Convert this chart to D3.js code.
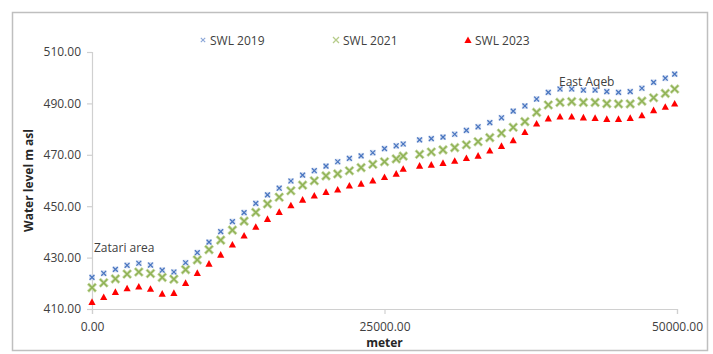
<!DOCTYPE html>
<html>
<head>
<meta charset="utf-8">
<script src="https://cdn.jsdelivr.net/npm/d3@7"></script>
<style>
  html, body { margin: 0; padding: 0; background: #fff; }
  svg { display: block; font-family: "Open Sans", "Liberation Sans", sans-serif; }
</style>
</head>
<body>
<svg id="chart" width="713" height="354"></svg>
<script>
// Distance along the profile (m)
const meters = [0, 1000, 2000, 3000, 4000, 5000, 6000, 7000, 8000, 9000,
  10000, 11000, 12000, 13000, 14000, 15000, 16000, 17000, 18000, 19000,
  20000, 21000, 22000, 23000, 24000, 25000, 26000, 26600, 28000, 29000,
  30000, 31000, 32000, 33000, 34000, 35000, 36000, 37000, 38000, 39000,
  40000, 41000, 42000, 43000, 44000, 45000, 46000, 47000, 48000, 49000, 49800];

// Static water level (m asl) per survey year
const swl2019 = [422.3, 423.9, 425.4, 427.0, 427.8, 427.1, 425.1, 424.4, 428.0, 431.9,
  436.0, 440.1, 444.0, 447.5, 451.1, 454.4, 457.0, 459.8, 462.1, 463.8,
  465.6, 467.3, 468.6, 469.6, 470.8, 472.4, 473.5, 474.2, 475.8, 476.3,
  476.9, 478.0, 479.5, 480.9, 482.5, 484.4, 487.0, 489.0, 491.7, 494.3,
  495.6, 495.6, 495.2, 495.2, 494.6, 494.3, 494.6, 495.9, 498.2, 499.8, 501.4];

const swl2021 = [418.3, 420.2, 421.7, 423.6, 424.4, 423.8, 422.3, 421.6, 425.3, 429.1,
  433.1, 436.8, 440.7, 444.2, 447.6, 450.9, 453.5, 456.0, 458.2, 459.9,
  461.8, 462.6, 463.8, 465.0, 466.3, 467.3, 468.4, 469.5, 470.2, 471.1,
  471.9, 472.8, 473.9, 475.1, 476.7, 478.4, 480.7, 482.9, 486.5, 489.4,
  490.4, 490.7, 490.4, 490.4, 489.9, 489.8, 489.8, 490.9, 492.2, 493.9, 495.6];

const swl2023 = [412.6, 414.5, 416.5, 417.9, 418.6, 417.7, 415.8, 416.1, 420.0, 423.9,
  427.5, 431.0, 434.9, 438.4, 441.8, 444.9, 447.6, 450.2, 452.4, 454.0,
  455.4, 456.3, 457.9, 458.6, 459.8, 461.2, 462.5, 464.4, 465.6, 466.0,
  466.7, 467.5, 468.6, 469.5, 471.5, 473.3, 475.5, 478.7, 482.0, 484.0,
  484.7, 484.7, 484.4, 484.2, 483.8, 483.8, 484.2, 485.2, 487.2, 488.5, 489.8];

const seriesNames = ["SWL 2019", "SWL 2021", "SWL 2023"];
const xTicks = [0, 25000, 50000];
const yTicks = [410, 430, 450, 470, 490, 510];

const svg = d3.select("#chart");
const textColor = "#404040";
const axisColor = "#d0d0d0";

// Outer chart frame
svg.append("rect")
  .attr("x", 12.5).attr("y", 12.5)
  .attr("width", 695).attr("height", 338)
  .attr("fill", "#fff")
  .attr("stroke", "#bfbfbf").attr("stroke-width", 1.5);

const x = d3.scaleLinear().domain([0, 50000]).range([92, 677]);
const y = d3.scaleLinear().domain([410, 510]).range([309, 52]);

// Y axis
const yAxis = svg.append("g")
  .attr("transform", `translate(${x(0)},0)`)
  .call(d3.axisLeft(y).tickValues(yTicks).tickFormat(d3.format(".2f")).tickSize(5).tickPadding(6));
// X axis
const xAxis = svg.append("g")
  .attr("transform", `translate(0,${y(410)})`)
  .call(d3.axisBottom(x).tickValues(xTicks).tickFormat(d3.format(".2f")).tickSize(5).tickPadding(8));

[yAxis, xAxis].forEach(g => {
  g.select(".domain").attr("stroke", axisColor).attr("stroke-width", 1.2);
  g.selectAll(".tick line").attr("stroke", axisColor).attr("stroke-width", 1.2);
  g.selectAll(".tick text")
    .attr("fill", textColor)
    .style("font-size", "12px")
    .style("font-family", "'Open Sans', sans-serif");
});

// Axis titles
svg.append("text")
  .attr("transform", `translate(33,${(y(410) + y(510)) / 2}) rotate(-90)`)
  .attr("text-anchor", "middle")
  .attr("fill", "#262626")
  .style("font-size", "12px").style("font-weight", "bold")
  .text("Water level m asl");

svg.append("text")
  .attr("x", (x(0) + x(50000)) / 2).attr("y", 347)
  .attr("text-anchor", "middle")
  .attr("fill", "#262626")
  .style("font-size", "12px").style("font-weight", "bold")
  .text("meter");

// Marker shapes
function drawCross(g, cx, cy, r, color, w) {
  g.append("path")
    .attr("d", `M${cx - r},${cy - r}L${cx + r},${cy + r}M${cx - r},${cy + r}L${cx + r},${cy - r}`)
    .attr("stroke", color).attr("stroke-width", w).attr("fill", "none");
}
function drawTriangle(g, cx, cy, color) {
  g.append("path")
    .attr("d", `M${cx},${cy - 4}L${cx + 3.6},${cy + 2.6}L${cx - 3.6},${cy + 2.6}Z`)
    .attr("fill", color);
}

const markers = [
  (g, cx, cy) => {
    g.append("rect").attr("x", cx - 3).attr("y", cy - 3).attr("width", 6).attr("height", 6)
      .attr("fill", "#c9d6ee").attr("opacity", 0.7);
    drawCross(g, cx, cy, 2.4, "#4a76c0", 1.3);
  },
  (g, cx, cy) => {
    drawCross(g, cx, cy, 4, "#c6d8a4", 3);
    drawCross(g, cx, cy, 3.6, "#8fb254", 1.4);
  },
  (g, cx, cy) => drawTriangle(g, cx, cy, "#ff0000")
];

const seriesValues = [swl2019, swl2021, swl2023];
const plot = svg.append("g");
seriesValues.forEach((vals, si) => {
  const g = plot.append("g");
  vals.forEach((v, i) => markers[si](g, x(meters[i]), y(v)));
});

// Legend
const legendX = [203, 336, 468];
const legend = svg.append("g");
seriesNames.forEach((name, i) => {
  const g = legend.append("g");
  if (i === 0) {
    drawCross(g, legendX[i], 40, 2.2, "#8aa6d8", 1.1);
  } else if (i === 1) {
    drawCross(g, legendX[i], 40, 3, "#b6cc8a", 1.3);
  } else {
    drawTriangle(g, legendX[i], 40.5, "#ff0000");
  }
  g.append("text")
    .attr("x", legendX[i] + 7).attr("y", 44.5)
    .attr("fill", textColor)
    .style("font-size", "12px")
    .text(name);
});

// Area labels
svg.append("text").attr("x", 94).attr("y", 251.5)
  .attr("fill", textColor).style("font-size", "12px").text("Zatari area");
svg.append("text").attr("x", 559).attr("y", 85.5)
  .attr("fill", textColor).style("font-size", "12px").text("East Aqeb");
</script>
</body>
</html>
